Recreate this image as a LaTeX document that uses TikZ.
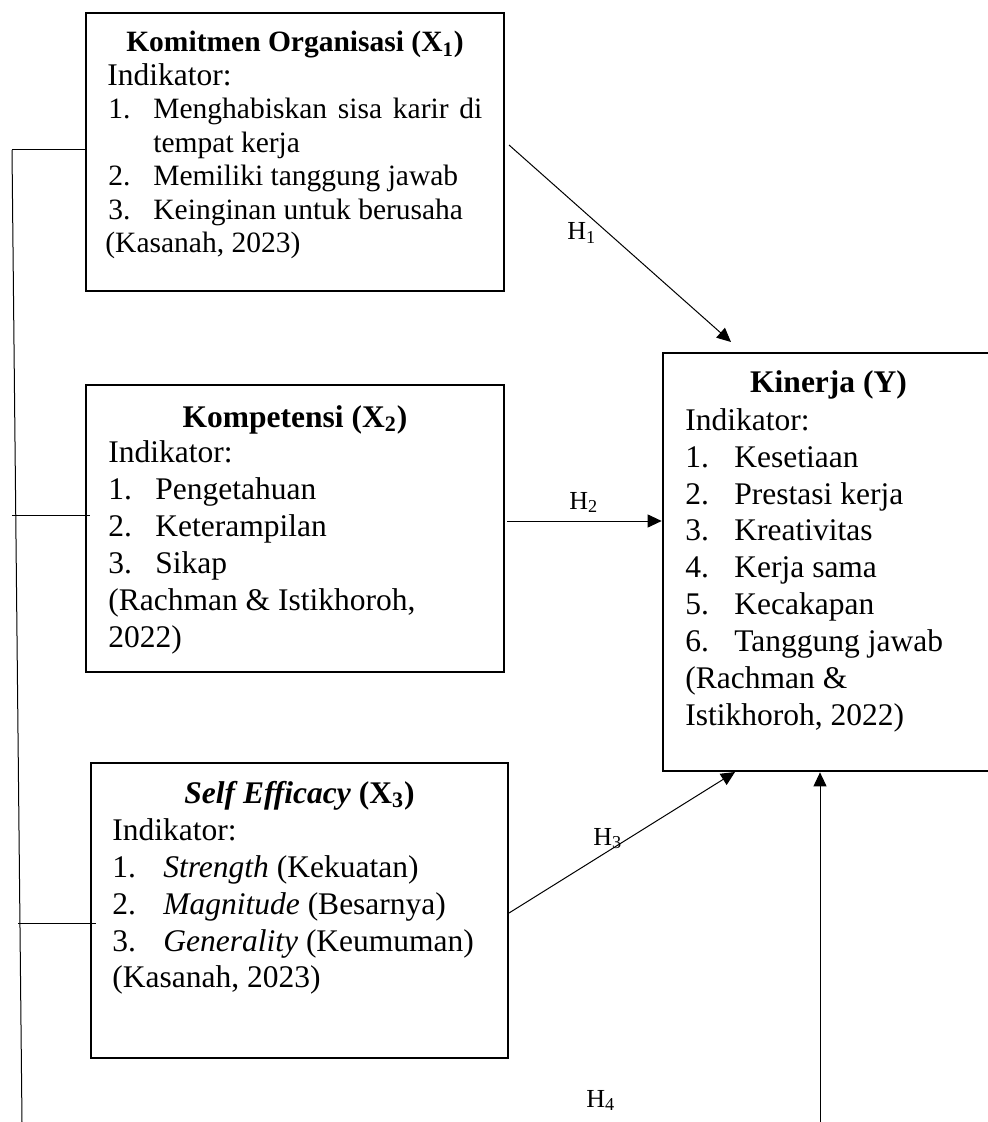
\documentclass[tikz,border=0pt]{standalone}
\usepackage{fontspec}
\setmainfont{Liberation Serif}
\usetikzlibrary{arrows.meta}
\newcommand\fsA{\fontsize{14.75}{17}\selectfont}
\newcommand\fsB{\fontsize{15.75}{18.5}\selectfont}
\begin{document}
\begin{tikzpicture}[x=0.5pt,y=-0.5pt,
  box/.style={draw, line width=1.35pt, rectangle, inner sep=0pt},
  txt/.style={anchor=base west, inner sep=0pt},
  ttl/.style={anchor=base, inner sep=0pt, font=\bfseries},
  hyp/.style={anchor=base west, inner sep=0pt, font=\fontsize{13}{15}\selectfont},
  conn/.style={line width=0.5pt},
  arr/.style={conn, -{Triangle[length=7pt,width=6.5pt]}}]
\useasboundingbox (0,0) rectangle (988,1122);

% boxes
\node[box, minimum width=209pt, minimum height=139pt] (x1) at (295,152) {};
\node[box, minimum width=209pt, minimum height=143.5pt] (x2) at (295,528.5) {};
\node[box, minimum width=208.5pt, minimum height=147.5pt] (x3) at (299.5,910.5) {};
\node[box, minimum width=165.5pt, minimum height=209pt] (ky) at (828.5,562) {};

% Komitmen Organisasi
\begin{scope}[every node/.append style={font=\fsA}]
\node[ttl, font=\fsA\bfseries] (x1t) at (295,52) {Komitmen Organisasi (X\textsubscript{1})};
\node[txt, font=\fsB] (x1i) at (107,85.5) {Indikator:};
\node[txt] (x1n1) at (108,119) {1.};
\node[txt] (x1a1) at (153,119) {\makebox[164.5pt][s]{Menghabiskan sisa karir di}};
\node[txt] (x1b1) at (153,152.5) {tempat kerja};
\node[txt] (x1n2) at (108,186) {2.};
\node[txt] (x1a2) at (153,186) {Memiliki tanggung jawab};
\node[txt] (x1n3) at (108,219.5) {3.};
\node[txt] (x1a3) at (153,219.5) {Keinginan untuk berusaha};
\node[txt] (x1s) at (105,253) {(Kasanah, 2023)};
\end{scope}

% Kompetensi
\begin{scope}[every node/.append style={font=\fsB}]
\node[ttl, font=\fsB\bfseries] (x2t) at (295,427) {Kompetensi (X\textsubscript{2})};
\node[txt] (x2i) at (108,462) {Indikator:};
\node[txt] (x2n1) at (108,499) {1.};
\node[txt] (x2a1) at (155,499) {Pengetahuan};
\node[txt] (x2n2) at (108,536) {2.};
\node[txt] (x2a2) at (155,536) {Keterampilan};
\node[txt] (x2n3) at (108,573) {3.};
\node[txt] (x2a3) at (155,573) {Sikap};
\node[txt] (x2s1) at (108,610) {(Rachman \& Istikhoroh,};
\node[txt] (x2s2) at (108,647) {2022)};
\end{scope}

% Self Efficacy
\begin{scope}[every node/.append style={font=\fsB}]
\node[ttl, font=\fsB\bfseries] (x3t) at (299.5,803) {\textit{Self Efficacy} (X\textsubscript{3})};
\node[txt] (x3i) at (112,840) {Indikator:};
\node[txt] (x3n1) at (112,877) {1.};
\node[txt] (x3a1) at (163,877) {\textit{Strength} (Kekuatan)};
\node[txt] (x3n2) at (112,914) {2.};
\node[txt] (x3a2) at (163,914) {\textit{Magnitude} (Besarnya)};
\node[txt] (x3n3) at (112,951) {3.};
\node[txt] (x3a3) at (163,951) {\textit{Generality} (Keumuman)};
\node[txt] (x3s) at (112,987) {(Kasanah, 2023)};
\end{scope}

% Kinerja
\begin{scope}[every node/.append style={font=\fsB}]
\node[ttl, font=\fsB\bfseries] (kyt) at (828.5,393) {Kinerja (Y)};
\node[txt] (kyi) at (685,430) {Indikator:};
\node[txt] (kyn1) at (685,467) {1.};
\node[txt] (kya1) at (734,467) {Kesetiaan};
\node[txt] (kyn2) at (685,504) {2.};
\node[txt] (kya2) at (734,504) {Prestasi kerja};
\node[txt] (kyn3) at (685,540) {3.};
\node[txt] (kya3) at (734,540) {Kreativitas};
\node[txt] (kyn4) at (685,577) {4.};
\node[txt] (kya4) at (734,577) {Kerja sama};
\node[txt] (kyn5) at (685,614) {5.};
\node[txt] (kya5) at (734,614) {Kecakapan};
\node[txt] (kyn6) at (685,651) {6.};
\node[txt] (kya6) at (734,651) {Tanggung jawab};
\node[txt] (kys1) at (685,688) {(Rachman \&};
\node[txt] (kys2) at (685,725) {Istikhoroh, 2022)};
\end{scope}

% left bus joining the three independent variables
\coordinate (b1) at (12,150);
\coordinate (b2) at (12,515);
\coordinate (b3) at (18,923);
\coordinate (b4) at (22,1122);
\draw[conn] (b1) -- (b4);
\draw[conn] (b1) -- (x1.west |- b1);
\draw[conn] (b2) -- ([xshift=2.5pt]x2.west |- b2);
\draw[conn] (b3) -- ([xshift=3pt]x3.west |- b3);

% hypothesis arrows
\coordinate (h1s) at (509,145);
\coordinate (h1e) at (731,342);
\draw[arr] (h1s) -- (h1e);
\coordinate (h2s) at (507,521);
\draw[arr] (h2s) -- (h2s -| ky.west) ;
\coordinate (h3s) at (509,913);
\coordinate (h3e) at (735,772);
\draw[arr] (h3s) -- (h3e);
\coordinate (h4s) at (820,1122);
\draw[arr] (h4s) -- (h4s |- ky.south);

\node[hyp] (h1) at (567,240) {H\textsubscript{1}};
\node[hyp] (h2) at (569,509) {H\textsubscript{2}};
\node[hyp] (h3) at (593,845) {H\textsubscript{3}};
\node[hyp] (h4) at (586,1107) {H\textsubscript{4}};
\end{tikzpicture}
\end{document}
